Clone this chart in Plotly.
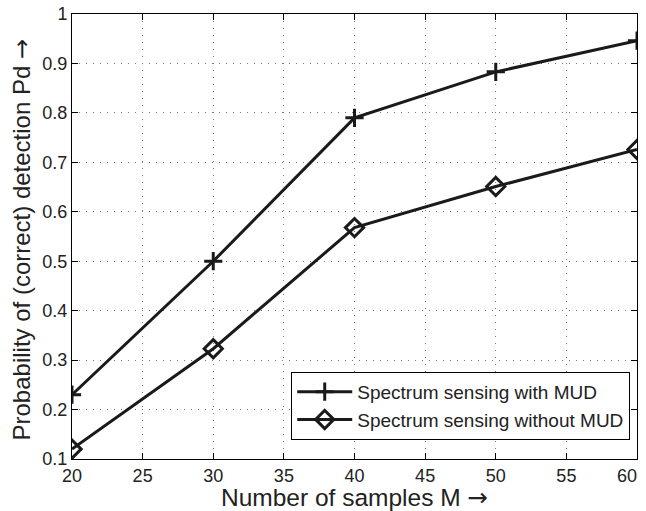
import plotly.graph_objects as go

samples = [20, 30, 40, 50, 60]
pd_with_mud = [0.23, 0.50, 0.79, 0.883, 0.946]
pd_without_mud = [0.12, 0.323, 0.568, 0.651, 0.726]
x_ticks = [20, 25, 30, 35, 40, 45, 50, 55, 60]
x_tick_labels = ["20", "25", "30", "35", "40", "45", "50", "55", "60\u00a0\u00a0\u00a0\u00a0"]
y_ticks = [0.1, 0.2, 0.3, 0.4, 0.5, 0.6, 0.7, 0.8, 0.9, 1.0]
y_tick_labels = ["0.1", "0.2", "0.3", "0.4", "0.5", "0.6", "0.7", "0.8", "0.9", "1"]
x_title = "Number of samples M"
y_title = "Probability of (correct) detection Pd"

ink = "#1a1a1a"
text_col = "#222"
arrow = " <span style='font-family:DejaVu Sans'>→</span>"

fig = go.Figure()
fig.add_trace(go.Scatter(
    x=samples, y=pd_with_mud, mode="lines+markers",
    name="Spectrum sensing with MUD",
    line=dict(color=ink, width=3),
    marker=dict(symbol="cross-thin-open", size=13, line=dict(color=ink, width=3), color=ink),
))
fig.add_trace(go.Scatter(
    x=samples, y=pd_without_mud, mode="lines+markers",
    name="Spectrum sensing without MUD",
    line=dict(color=ink, width=3),
    marker=dict(symbol="diamond-open", size=14, line=dict(color=ink, width=3), color=ink),
))

axis_common = dict(
    showline=True, linecolor="black", linewidth=1, mirror="ticks",
    ticks="inside", ticklen=6, tickcolor="black",
    showgrid=True, gridcolor="#7a7a7a", griddash="1px,6px", gridwidth=1,
    zeroline=False, tickfont=dict(size=18, color=text_col),
    ticklabeloverflow="allow", automargin=False,
)

fig.update_xaxes(range=[20, 60], tickvals=x_ticks, ticktext=x_tick_labels, **axis_common)
fig.update_yaxes(range=[0.1, 1.0], tickvals=y_ticks, ticktext=y_tick_labels, **axis_common)

fig.add_annotation(
    text=x_title + arrow, xref="paper", yref="paper", x=0.5, y=0,
    xanchor="center", yanchor="middle", yshift=-38, showarrow=False,
    font=dict(size=24.5, color=text_col),
)
fig.add_annotation(
    text=y_title + arrow, xref="paper", yref="paper", x=0, y=0.5,
    xanchor="center", yanchor="middle", xshift=-51, yshift=-3, textangle=-90,
    showarrow=False, font=dict(size=24, color=text_col),
)

fig.update_layout(
    width=646, height=511,
    margin=dict(l=72, r=9, t=14, b=52, autoexpand=False),
    paper_bgcolor="white", plot_bgcolor="white",
    font=dict(family="Liberation Sans, Arial, Helvetica, sans-serif", color=text_col),
    showlegend=True,
    legend=dict(
        x=0.988, xanchor="right", y=0.043, yanchor="bottom",
        bordercolor="black", borderwidth=1, bgcolor="white",
        font=dict(size=19, color=text_col), itemwidth=55,
        tracegroupgap=0,
    ),
)

fig.write_html(
    "out.html",
    config={"displayModeBar": False},
    post_script="document.body.style.margin='0px';document.body.style.overflow='hidden';",
)
